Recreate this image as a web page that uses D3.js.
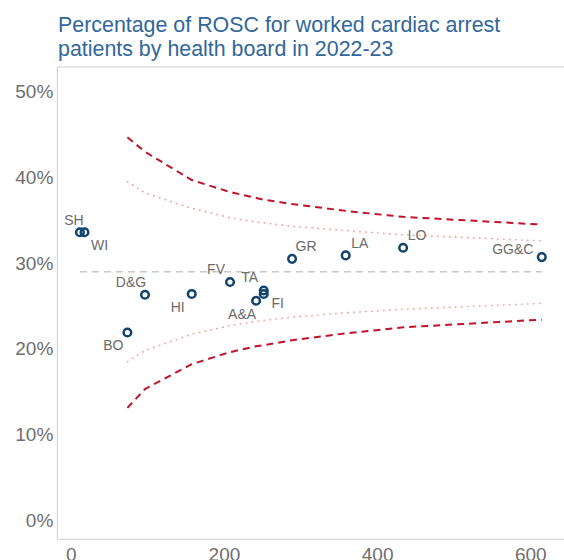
<!DOCTYPE html>
<html>
<head>
<meta charset="utf-8">
<script src="https://cdn.jsdelivr.net/npm/d3@7"></script>
<style>
  body { margin: 0; background: #fff; }
  svg { font-family: "Liberation Sans", Arial, sans-serif; }
</style>
</head>
<body>
<script>
// health boards, number of worked arrests and % ROSC
var boards = ["SH", "WI", "BO", "D&G", "HI", "FV", "A&A", "TA", "FI", "GR", "LA", "LO", "GG&C"];
var patients = [12, 18, 74, 97, 158, 208, 242, 252, 252, 289, 359, 434, 615];
var rosc = [33.6, 33.6, 21.9, 26.3, 26.4, 27.8, 25.6, 26.8, 26.4, 30.5, 30.9, 31.8, 30.7];
var scotlandMean = 29.0;

// control limits read along the funnel
var limitN = [74, 97, 158, 208, 242, 252, 289, 359, 434, 615];
var upper3 = [44.7, 43.0, 39.7, 38.3, 37.6, 37.4, 36.9, 36.1, 35.4, 34.5];
var upper2 = [39.5, 38.2, 36.4, 35.3, 34.8, 34.7, 34.3, 33.8, 33.3, 32.6];
var lower2 = [18.5, 19.8, 21.7, 22.7, 23.2, 23.3, 23.7, 24.2, 24.6, 25.3];
var lower3 = [13.1, 15.3, 18.2, 19.6, 20.3, 20.4, 21.0, 21.8, 22.5, 23.4];

var yTicks = [0, 10, 20, 30, 40, 50];
var xTicks = [0, 200, 400, 600];

var width = 564, height = 560;
var panel = { left: 57.3, right: 564, top: 67, bottom: 539.3 };

var svg = d3.select("body").append("svg")
    .attr("width", width)
    .attr("height", height);

var x = d3.scaleLinear().domain([-17.5, 644]).range([panel.left, panel.right]);
var y = d3.scaleLinear().domain([-2.25, 52.9]).range([panel.bottom, panel.top]);

// title
var title = svg.append("text")
    .attr("fill", "#31679c")
    .attr("font-size", 21.4);
title.append("tspan").attr("x", 58).attr("y", 32).text("Percentage of ROSC for worked cardiac arrest");
title.append("tspan").attr("x", 58).attr("y", 56).text("patients by health board in 2022-23");

// panel border (left, top, bottom)
svg.append("path")
    .attr("d", `M${panel.right},${panel.top}H${panel.left}V${panel.bottom}H${panel.right}`)
    .attr("fill", "none")
    .attr("stroke", "#d0d0d0")
    .attr("stroke-width", 1);

var yAxis = svg.append("g")
    .attr("transform", `translate(${panel.left}, 0)`)
    .call(d3.axisLeft(y).tickValues(yTicks).tickSize(0).tickPadding(4).tickFormat(d => d + "%"));
yAxis.select(".domain").remove();
yAxis.selectAll("text").attr("font-size", 19).attr("fill", "#6e6e6e").attr("font-family", "Liberation Sans, Arial, sans-serif");

var xAxis = svg.append("g")
    .attr("transform", `translate(0, ${panel.bottom})`)
    .call(d3.axisBottom(x).tickValues(xTicks).tickSize(0).tickPadding(8));
xAxis.select(".domain").remove();
xAxis.selectAll("text").attr("font-size", 19).attr("fill", "#6e6e6e").attr("font-family", "Liberation Sans, Arial, sans-serif");

// mean line
svg.append("line")
    .attr("x1", x(d3.min(patients)))
    .attr("x2", x(d3.max(patients)))
    .attr("y1", y(scotlandMean))
    .attr("y2", y(scotlandMean))
    .attr("stroke", "#c8c8c8")
    .attr("stroke-width", 1.5)
    .attr("stroke-dasharray", "7,5");

var line = d3.line()
    .x((d, i) => x(limitN[i]))
    .y(d => y(d));

[upper2, lower2].forEach(arr => {
    svg.append("path")
        .attr("d", line(arr))
        .attr("fill", "none")
        .attr("stroke", "#eea59c")
        .attr("stroke-width", 1.6)
        .attr("stroke-linecap", "round")
        .attr("stroke-dasharray", "0.5,5.5");
});

[upper3, lower3].forEach(arr => {
    svg.append("path")
        .attr("d", line(arr))
        .attr("fill", "none")
        .attr("stroke", "#c0142c")
        .attr("stroke-width", 2)
        .attr("stroke-dasharray", "7,5");
});

var data = boards.map((b, i) => ({ board: b, n: patients[i], pct: rosc[i] }));

// label nudges (repelled labels)
var nudge = {
    "SH": [-6, -12], "WI": [15, 13], "BO": [-14, 13], "D&G": [-14, -13],
    "HI": [-14, 13], "FV": [-14, -13], "A&A": [-14, 13], "TA": [-14, -13],
    "FI": [14, 9], "GR": [14, -13], "LA": [14, -12], "LO": [14, -13], "GG&C": [-29, -8]
};

svg.selectAll(".lbl")
    .data(data)
    .enter()
    .append("text")
    .attr("class", "lbl")
    .attr("x", d => x(d.n) + nudge[d.board][0])
    .attr("y", d => y(d.pct) + nudge[d.board][1])
    .attr("dy", "0.35em")
    .attr("text-anchor", "middle")
    .attr("font-size", 14)
    .attr("fill", "#6b6b6b")
    .text(d => d.board);

svg.selectAll(".pt")
    .data(data)
    .enter()
    .append("circle")
    .attr("class", "pt")
    .attr("cx", d => x(d.n))
    .attr("cy", d => y(d.pct))
    .attr("r", 3.8)
    .attr("fill", "none")
    .attr("stroke", "#12436d")
    .attr("stroke-width", 2.5);
</script>
</body>
</html>
